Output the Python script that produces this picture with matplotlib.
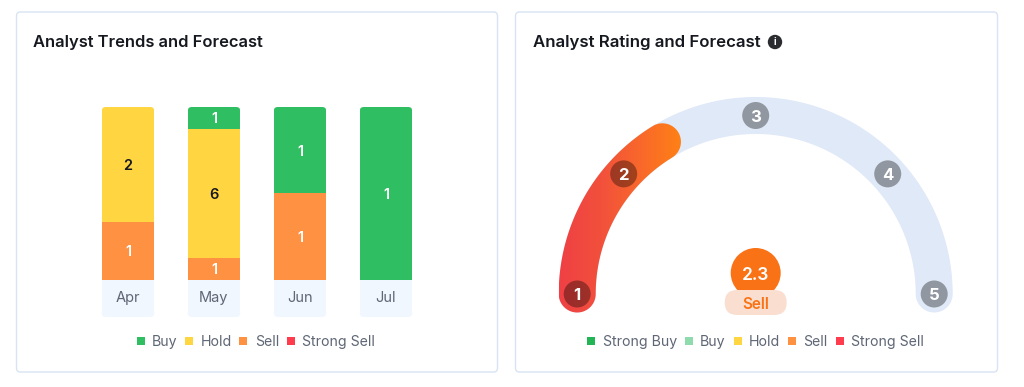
import numpy as np
import matplotlib
matplotlib.use("Agg")
import matplotlib.pyplot as plt
from matplotlib.patches import FancyBboxPatch, PathPatch, Circle
from matplotlib.path import Path
from matplotlib.colors import LinearSegmentedColormap
from matplotlib.transforms import IdentityTransform

plt.rcParams['font.family'] = ['Inter', 'DejaVu Sans']

months = ['Apr', 'May', 'Jun', 'Jul']
buy = [0, 1, 1, 1]
hold = [2, 6, 0, 0]
sell = [1, 1, 1, 0]
strong_sell = [0, 0, 0, 0]
trend_legend = ['Buy', 'Hold', 'Sell', 'Strong Sell']
rating_legend = ['Strong Buy', 'Buy', 'Hold', 'Sell', 'Strong Sell']
rating_value = 2.3
rating_label = 'Sell'
rating_ticks = [1, 2, 3, 4, 5]
rating_tick_angles = [180, 137.7, 90, 42.3, 0]

C_BUY, C_HOLD, C_SELL, C_SS = '#2FBF62', '#FFD541', '#FF9142', '#FF3B4E'
C_SB, C_LB = '#22B455', '#8FDBAE'
DARK, GREY = '#15181E', '#5F6675'
W, H = 1024, 387

fig = plt.figure(figsize=(W / 100, H / 100), dpi=100, facecolor='white')

def axes_px(x0, y0, x1, y1, **kw):
    return fig.add_axes([x0 / W, 1 - y1 / H, (x1 - x0) / W, (y1 - y0) / H], **kw)

# page layer in pixel units
px = axes_px(0, 0, W, H, zorder=0)
px.set_xlim(0, W)
px.set_ylim(H, 0)
px.axis('off')

for x0, x1 in [(16.5, 497.5), (515.5, 997.5)]:
    px.add_patch(FancyBboxPatch((x0 + 4, 12 + 4), x1 - x0 - 8, 360 - 8,
                                boxstyle='round,pad=4,rounding_size=4',
                                fc='white', ec='#D8E3F4', lw=1))

px.text(33, 47.5, 'Analyst Trends and Forecast', fontsize=11.9, fontweight='semibold',
        color=DARK, va='baseline', ha='left')
px.text(533, 47.5, 'Analyst Rating and Forecast', fontsize=12.1, fontweight='semibold',
        color=DARK, va='baseline', ha='left')
px.add_patch(Circle((775, 42), 7.2, fc='#2A2C30', ec='none'))
px.text(775, 42, 'i', fontsize=7, fontweight='bold', color='white', ha='center', va='center')

def legend(items, colors, marker_x, text_x):
    for label, c, mx, tx in zip(items, colors, marker_x, text_x):
        px.scatter([mx], [340.5], marker='s', s=26, color=c, linewidths=0)
        px.text(tx, 346, label, fontsize=10.2, color=GREY, va='baseline', ha='left')

legend(trend_legend, [C_BUY, C_HOLD, C_SELL, C_SS],
       [140.5, 188.5, 243, 291], [152, 201, 255, 302])
legend(rating_legend, [C_SB, C_LB, C_HOLD, C_SELL, C_SS],
       [591, 688.5, 737.5, 791.5, 839.5], [603, 700, 749, 803, 851])

# stacked bars
bx = axes_px(85, 107, 429, 279.5, zorder=1)
bx.patch.set_alpha(0)
bx.set_xlim(-0.5, 3.5)
bx.set_ylim(0, 1)
for s in bx.spines.values():
    s.set_visible(False)
bx.set_yticks([])
pos = np.arange(len(months))
bx.set_xticks(pos, months, fontsize=10.5, color=GREY)
bx.tick_params(axis='x', length=0, pad=8)

bw = 0.61
fig.canvas.draw()
for i, m in enumerate(months):
    cx = 85 + (pos[i] + 0.5) * 86
    half = bw * 86 / 2
    px.add_patch(FancyBboxPatch((cx - half, 279.5), 2 * half, 30, boxstyle='square,pad=0',
                                fc='#F1F7FE', ec='none'))
    px.add_patch(FancyBboxPatch((cx - half + 4, 316.5 - 4), 2 * half - 8, 0.5,
                                boxstyle='round,pad=4,rounding_size=4', fc='#F1F7FE', ec='none'))
    total = sell[i] + hold[i] + buy[i] + strong_sell[i]
    base = 0.0
    # clip shape: rounded top corners, square bottom
    (xa, ya), (xb, yb) = bx.transData.transform([(i - bw / 2, 0), (i + bw / 2, 1)])
    clip = FancyBboxPatch((xa + 4, ya + 4 - 20), xb - xa - 8, yb - ya + 20 - 8,
                          boxstyle='round,pad=4,rounding_size=4',
                          transform=IdentityTransform())
    for vals, col, tc in [(strong_sell, C_SS, 'white'), (sell, C_SELL, 'white'),
                          (hold, C_HOLD, DARK), (buy, C_BUY, 'white')]:
        v = vals[i]
        if v == 0:
            continue
        frac = v / total
        for b in bx.bar(i, frac, width=bw, bottom=base, color=col, linewidth=0):
            b.set_clip_path(clip)
        bx.text(i, base + frac / 2, str(v), ha='center', va='center_baseline', fontsize=10.5,
                fontweight='semibold', color=tc)
        base += frac

# gauge: data units are pixels relative to the gauge centre
gx = axes_px(555.7, 90, 955.7, 320, zorder=1)
gx.patch.set_alpha(0)
gx.axis('off')

R, HW = 178.5, 18.5

def arc_path(a_start, a_end):
    t = np.radians(np.linspace(a_start, a_end, 240))
    ro, ri = R + HW, R - HW
    outer = np.c_[ro * np.cos(t), ro * np.sin(t)]
    inner = np.c_[ri * np.cos(t[::-1]), ri * np.sin(t[::-1])]
    ce = np.array([R * np.cos(t[-1]), R * np.sin(t[-1])])
    cs = np.array([R * np.cos(t[0]), R * np.sin(t[0])])
    u = np.linspace(0, np.pi, 40)
    cap_end = ce + HW * np.c_[np.cos(t[-1] - u), np.sin(t[-1] - u)]
    cap_start = cs + HW * np.c_[np.cos(t[0] + np.pi - u), np.sin(t[0] + np.pi - u)]
    pts = np.vstack([outer, cap_end, inner, cap_start, outer[:1]])
    return Path(pts, closed=True)

gx.add_patch(PathPatch(arc_path(180, 0), fc='#E0E9F8', ec='none'))

value_angle = 180 - (rating_value - 1) * 45
fill = PathPatch(arc_path(180, value_angle), fc='none', ec='none')
gx.add_patch(fill)
cmap = LinearSegmentedColormap.from_list('g', ['#EF4045', '#F2503C', '#F9692A', '#FF8214'])
grad = np.linspace(0, 1, 256).reshape(1, -1)
im = gx.imshow(grad, cmap=cmap, extent=(-197, -72, -30, 200), aspect='auto', zorder=2)
im.set_clip_path(fill)

for v, a in zip(rating_ticks, rating_tick_angles):
    x, y = R * np.cos(np.radians(a)), R * np.sin(np.radians(a))
    gx.add_patch(Circle((x, y), 13.5, fc='black', alpha=0.35, ec='none', zorder=3))
    gx.text(x, y, str(v), color='white', fontsize=12, fontweight='bold',
            ha='center', va='center_baseline', zorder=4)

gx.add_patch(Circle((0, 21), 25, fc='#F97316', ec='none', zorder=3))
gx.text(0, 21, f'{rating_value}', color='white', fontsize=12.5, fontweight='semibold',
        ha='center', va='center_baseline', zorder=5)
gx.add_patch(FancyBboxPatch((-31 + 12.5, -21 + 12.5), 62 - 25, 0,
                            boxstyle='round,pad=12.5,rounding_size=12.5',
                            fc='#FADFD0', ec='none', zorder=4))
gx.text(0, -9, rating_label, color='#F97316', fontsize=11, fontweight='semibold',
        ha='center', va='center_baseline', zorder=5)
gx.set_xlim(-200, 200)
gx.set_ylim(-26, 204)
gx.set_aspect('auto')

fig.savefig('out.png', dpi=100, facecolor='white')
